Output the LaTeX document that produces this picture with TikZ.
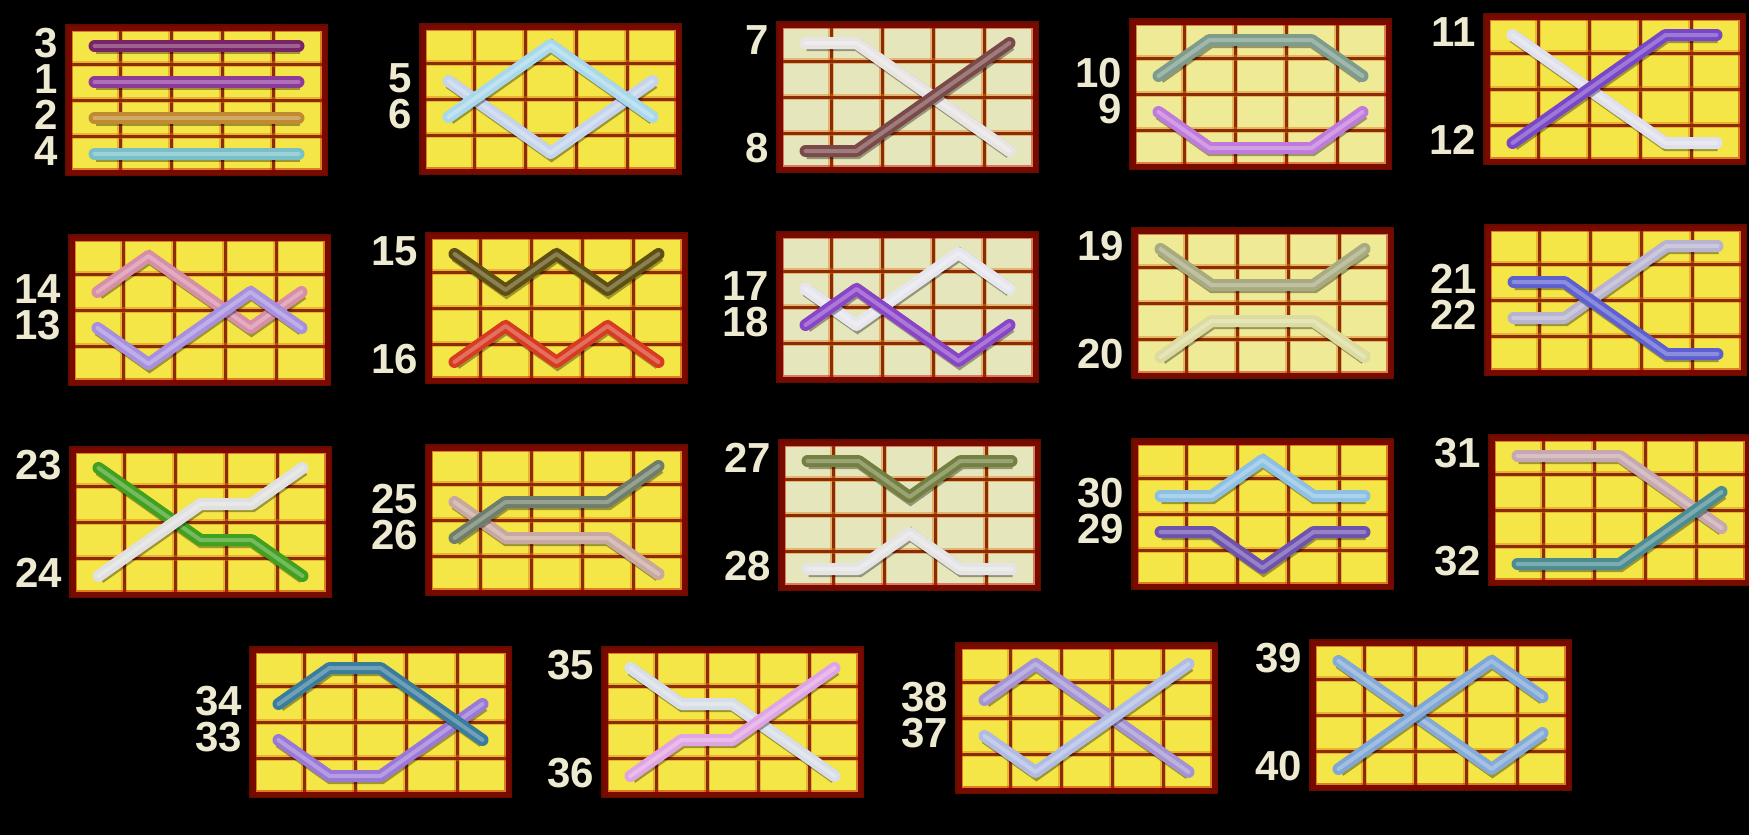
\documentclass[tikz,border=0pt]{standalone}
\usepackage{fontspec}
\setmainfont{Liberation Sans}
\definecolor{panelyellow}{HTML}{F4E646}
\definecolor{panellight}{HTML}{EEEA96}
\definecolor{panelpale}{HTML}{E6E6BC}
\definecolor{framered}{HTML}{780A00}
\definecolor{glowred}{HTML}{C81800}
\definecolor{gridbrown}{HTML}{8A2C06}
\definecolor{gridorange}{HTML}{E07818}
\definecolor{numcream}{HTML}{EEEAD2}
\definecolor{l1}{HTML}{8E3A9A}
\definecolor{l2}{HTML}{C08A30}
\definecolor{l3}{HTML}{7A2468}
\definecolor{l4}{HTML}{78C0C8}
\definecolor{l5}{HTML}{C4D4EC}
\definecolor{l6}{HTML}{A8D8EC}
\definecolor{l7}{HTML}{E8E4E4}
\definecolor{l8}{HTML}{7A4A4A}
\definecolor{l9}{HTML}{C07ADC}
\definecolor{l10}{HTML}{7E9C8C}
\definecolor{l11}{HTML}{E0E0EC}
\definecolor{l12}{HTML}{7846C8}
\definecolor{l13}{HTML}{A890E0}
\definecolor{l14}{HTML}{D88EA8}
\definecolor{l15}{HTML}{5E5012}
\definecolor{l16}{HTML}{D83A22}
\definecolor{l17}{HTML}{E6E6EE}
\definecolor{l18}{HTML}{8A44C8}
\definecolor{l19}{HTML}{A8AA80}
\definecolor{l20}{HTML}{DCDCA0}
\definecolor{l21}{HTML}{5E60D0}
\definecolor{l22}{HTML}{B8B4D0}
\definecolor{l23}{HTML}{40A020}
\definecolor{l24}{HTML}{E0E0E0}
\definecolor{l25}{HTML}{C8A8A0}
\definecolor{l26}{HTML}{6E7E6A}
\definecolor{l27}{HTML}{738040}
\definecolor{l28}{HTML}{E4E4E4}
\definecolor{l29}{HTML}{6E52B0}
\definecolor{l30}{HTML}{8CC0E4}
\definecolor{l31}{HTML}{C8A8B0}
\definecolor{l32}{HTML}{4A8C92}
\definecolor{l33}{HTML}{9A78D8}
\definecolor{l34}{HTML}{3A7C9C}
\definecolor{l35}{HTML}{D8DEE8}
\definecolor{l36}{HTML}{E0A4E4}
\definecolor{l37}{HTML}{B0BCE4}
\definecolor{l38}{HTML}{A494D4}
\definecolor{l39}{HTML}{84AAD8}
\definecolor{l40}{HTML}{7EA6D6}
\begin{document}
\begin{tikzpicture}[x=1pt, y=-1pt,
    panelframe/.style={draw=framered, line width=5pt, preaction={draw=glowred, line width=8pt, opacity=.5}},
    gridline/.style={draw=gridbrown, line width=3pt, preaction={draw=gridorange, line width=5.5pt, opacity=.45}},
    payline/.style={draw=#1, line width=12pt, line cap=round, line join=round,
        preaction={draw=black, line width=13pt, opacity=.35, transform canvas={xshift=1pt, yshift=-1.5pt}},
        postaction={draw=white, line width=4pt, opacity=.28}},
    linenum/.style={font=\fontsize{42}{42}\selectfont\bfseries, text=numcream, inner sep=0pt, anchor=east, xshift=-11pt, yshift=3pt}]
    \useasboundingbox (0,0) rectangle (1749,835);
    \fill[black] (0,0) rectangle (1749,835);

    % panels: origin at centre of the top left cell
    \foreach \n/\px/\py/\pc in {1/94.5/46/panelyellow, 2/448.5/45/panelyellow, 3/805.5/43/panelpale, 4/1158.5/40/panellight, 5/1512.5/35/panelyellow,
        6/97.5/256/panelyellow, 7/454.5/254/panelyellow, 8/805.5/253/panelpale, 9/1160.5/249/panellight, 10/1513.5/246/panelyellow,
        11/98.5/468/panelyellow, 12/454.5/466/panelyellow, 13/807.5/461/panelpale, 14/1160.5/460/panelyellow, 15/1517.5/456/panelyellow,
        16/278.5/668/panelyellow, 17/630.5/668/panelyellow, 18/984.5/664/panelyellow, 19/1338.5/661/panelyellow} {
        \coordinate (p\n) at (\px,\py);
        \begin{scope}[shift={(p\n)}, x=51pt, y=-36pt]
            \fill[\pc] (-0.5,-0.5) rectangle (4.5,3.5);
            \foreach \c in {0.5,1.5,2.5,3.5} \draw[gridline] (\c,-0.5) -- (\c,3.5);
            \foreach \r in {0.5,1.5,2.5} \draw[gridline] (-0.5,\r) -- (4.5,\r);
            \draw[panelframe] (-0.5,-0.5) rectangle (4.5,3.5);
        \end{scope}
    }

    \begin{scope}[shift={(p1)}, x=51pt, y=-36pt]
        \draw[payline=l3] (0,0) -- (4,0);
        \draw[payline=l1] (0,1) -- (4,1);
        \draw[payline=l2] (0,2) -- (4,2);
        \draw[payline=l4] (0,3) -- (4,3);
        \node[linenum] (n3) at (-0.5,0) {3};
        \node[linenum] (n1) at (-0.5,1) {1};
        \node[linenum] (n2) at (-0.5,2) {2};
        \node[linenum] (n4) at (-0.5,3) {4};
    \end{scope}
    \begin{scope}[shift={(p2)}, x=51pt, y=-36pt]
        \draw[payline=l5] (0,1) -- (1,2) -- (2,3) -- (3,2) -- (4,1);
        \draw[payline=l6] (0,2) -- (1,1) -- (2,0) -- (3,1) -- (4,2);
        \node[linenum] (n5) at (-0.5,1) {5};
        \node[linenum] (n6) at (-0.5,2) {6};
    \end{scope}
    \begin{scope}[shift={(p3)}, x=51pt, y=-36pt]
        \draw[payline=l7] (0,0) -- (1,0) -- (4,3);
        \draw[payline=l8] (0,3) -- (1,3) -- (4,0);
        \node[linenum] (n7) at (-0.5,0) {7};
        \node[linenum] (n8) at (-0.5,3) {8};
    \end{scope}
    \begin{scope}[shift={(p4)}, x=51pt, y=-36pt]
        \draw[payline=l10] (0,1) -- (1,0) -- (3,0) -- (4,1);
        \draw[payline=l9] (0,2) -- (1,3) -- (3,3) -- (4,2);
        \node[linenum] (n10) at (-0.5,1) {10};
        \node[linenum] (n9) at (-0.5,2) {9};
    \end{scope}
    \begin{scope}[shift={(p5)}, x=51pt, y=-36pt]
        \draw[payline=l11] (0,0) -- (3,3) -- (4,3);
        \draw[payline=l12] (0,3) -- (3,0) -- (4,0);
        \node[linenum] (n11) at (-0.5,0) {11};
        \node[linenum] (n12) at (-0.5,3) {12};
    \end{scope}

    \begin{scope}[shift={(p6)}, x=51pt, y=-36pt]
        \draw[payline=l14] (0,1) -- (1,0) -- (3,2) -- (4,1);
        \draw[payline=l13] (0,2) -- (1,3) -- (3,1) -- (4,2);
        \node[linenum] (n14) at (-0.5,1) {14};
        \node[linenum] (n13) at (-0.5,2) {13};
    \end{scope}
    \begin{scope}[shift={(p7)}, x=51pt, y=-36pt]
        \draw[payline=l15] (0,0) -- (1,1) -- (2,0) -- (3,1) -- (4,0);
        \draw[payline=l16] (0,3) -- (1,2) -- (2,3) -- (3,2) -- (4,3);
        \node[linenum] (n15) at (-0.5,0) {15};
        \node[linenum] (n16) at (-0.5,3) {16};
    \end{scope}
    \begin{scope}[shift={(p8)}, x=51pt, y=-36pt]
        \draw[payline=l17] (0,1) -- (1,2) -- (3,0) -- (4,1);
        \draw[payline=l18] (0,2) -- (1,1) -- (3,3) -- (4,2);
        \node[linenum] (n17) at (-0.5,1) {17};
        \node[linenum] (n18) at (-0.5,2) {18};
    \end{scope}
    \begin{scope}[shift={(p9)}, x=51pt, y=-36pt]
        \draw[payline=l19] (0,0) -- (1,1) -- (3,1) -- (4,0);
        \draw[payline=l20] (0,3) -- (1,2) -- (3,2) -- (4,3);
        \node[linenum] (n19) at (-0.5,0) {19};
        \node[linenum] (n20) at (-0.5,3) {20};
    \end{scope}
    \begin{scope}[shift={(p10)}, x=51pt, y=-36pt]
        \draw[payline=l22] (0,2) -- (1,2) -- (3,0) -- (4,0);
        \draw[payline=l21] (0,1) -- (1,1) -- (3,3) -- (4,3);
        \node[linenum] (n21) at (-0.5,1) {21};
        \node[linenum] (n22) at (-0.5,2) {22};
    \end{scope}

    \begin{scope}[shift={(p11)}, x=51pt, y=-36pt]
        \draw[payline=l23] (0,0) -- (2,2) -- (3,2) -- (4,3);
        \draw[payline=l24] (0,3) -- (2,1) -- (3,1) -- (4,0);
        \node[linenum] (n23) at (-0.5,0) {23};
        \node[linenum] (n24) at (-0.5,3) {24};
    \end{scope}
    \begin{scope}[shift={(p12)}, x=51pt, y=-36pt]
        \draw[payline=l25] (0,1) -- (1,2) -- (3,2) -- (4,3);
        \draw[payline=l26] (0,2) -- (1,1) -- (3,1) -- (4,0);
        \node[linenum] (n25) at (-0.5,1) {25};
        \node[linenum] (n26) at (-0.5,2) {26};
    \end{scope}
    \begin{scope}[shift={(p13)}, x=51pt, y=-36pt]
        \draw[payline=l27] (0,0) -- (1,0) -- (2,1) -- (3,0) -- (4,0);
        \draw[payline=l28] (0,3) -- (1,3) -- (2,2) -- (3,3) -- (4,3);
        \node[linenum] (n27) at (-0.5,0) {27};
        \node[linenum] (n28) at (-0.5,3) {28};
    \end{scope}
    \begin{scope}[shift={(p14)}, x=51pt, y=-36pt]
        \draw[payline=l30] (0,1) -- (1,1) -- (2,0) -- (3,1) -- (4,1);
        \draw[payline=l29] (0,2) -- (1,2) -- (2,3) -- (3,2) -- (4,2);
        \node[linenum] (n30) at (-0.5,1) {30};
        \node[linenum] (n29) at (-0.5,2) {29};
    \end{scope}
    \begin{scope}[shift={(p15)}, x=51pt, y=-36pt]
        \draw[payline=l31] (0,0) -- (2,0) -- (4,2);
        \draw[payline=l32] (0,3) -- (2,3) -- (4,1);
        \node[linenum] (n31) at (-0.5,0) {31};
        \node[linenum] (n32) at (-0.5,3) {32};
    \end{scope}

    \begin{scope}[shift={(p16)}, x=51pt, y=-36pt]
        \draw[payline=l33] (0,2) -- (1,3) -- (2,3) -- (4,1);
        \draw[payline=l34] (0,1) -- (1,0) -- (2,0) -- (4,2);
        \node[linenum] (n34) at (-0.5,1) {34};
        \node[linenum] (n33) at (-0.5,2) {33};
    \end{scope}
    \begin{scope}[shift={(p17)}, x=51pt, y=-36pt]
        \draw[payline=l35] (0,0) -- (1,1) -- (2,1) -- (4,3);
        \draw[payline=l36] (0,3) -- (1,2) -- (2,2) -- (4,0);
        \node[linenum] (n35) at (-0.5,0) {35};
        \node[linenum] (n36) at (-0.5,3) {36};
    \end{scope}
    \begin{scope}[shift={(p18)}, x=51pt, y=-36pt]
        \draw[payline=l38] (0,1) -- (1,0) -- (4,3);
        \draw[payline=l37] (0,2) -- (1,3) -- (4,0);
        \node[linenum] (n38) at (-0.5,1) {38};
        \node[linenum] (n37) at (-0.5,2) {37};
    \end{scope}
    \begin{scope}[shift={(p19)}, x=51pt, y=-36pt]
        \draw[payline=l39] (0,0) -- (3,3) -- (4,2);
        \draw[payline=l40] (0,3) -- (3,0) -- (4,1);
        \node[linenum] (n39) at (-0.5,0) {39};
        \node[linenum] (n40) at (-0.5,3) {40};
    \end{scope}
\end{tikzpicture}
\end{document}
